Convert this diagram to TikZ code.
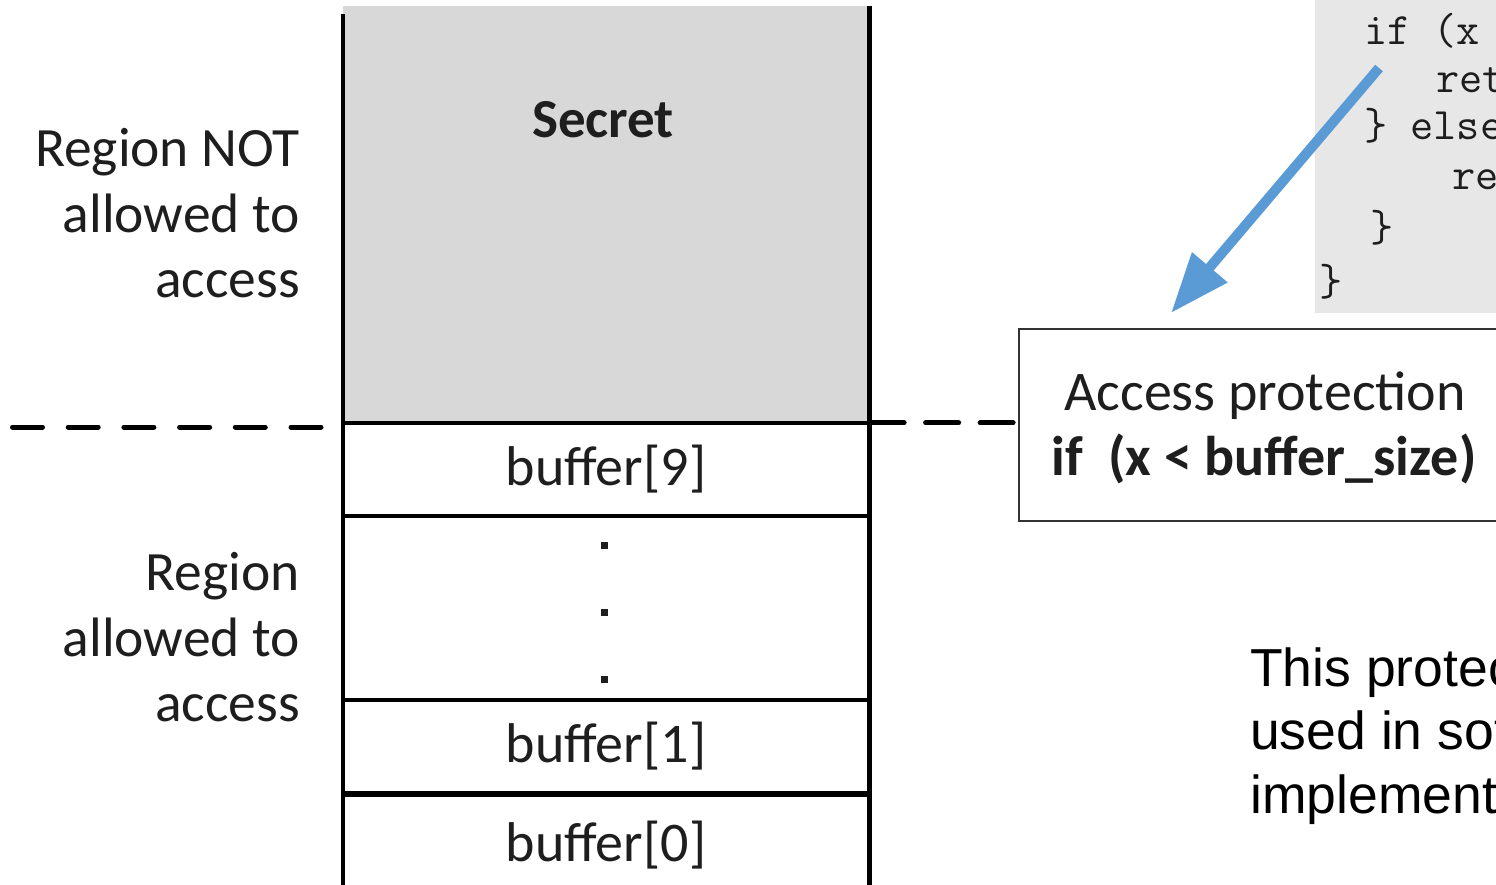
\documentclass[tikz,border=0pt]{standalone}
\usepackage{fontspec}
\setmainfont{Carlito}
\newfontfamily\arialfont{Liberation Sans}
\usetikzlibrary{arrows.meta}
\definecolor{secretgray}{RGB}{216,216,216}
\definecolor{codegray}{RGB}{231,231,231}
\definecolor{arrowblue}{RGB}{91,155,213}
\definecolor{txt}{RGB}{30,30,30}
\definecolor{boxline}{RGB}{50,50,50}
\begin{document}
\begin{tikzpicture}[x=1pt,y=-1pt,
  codebg/.style={rectangle, fill=codegray, draw=none, inner sep=0pt, minimum width=200pt, minimum height=313pt},
  codeline/.style={anchor=base west, inner sep=0pt, text=txt, font=\ttfamily\fontsize{45}{50}\selectfont},
  secretbox/.style={rectangle, fill=secretgray, draw=none, inner sep=0pt, minimum width=526pt, minimum height=417pt},
  secrettxt/.style={anchor=base, inner sep=0pt, text=txt, font=\bfseries\fontsize{55}{60}\selectfont},
  bufbox/.style={rectangle, draw=black, line width=4.2pt, fill=white, inner sep=0pt, minimum width=526pt, minimum height=93pt, text=txt, font=\fontsize{56}{60}\selectfont},
  wall/.style={draw=black, line width=4.2pt},
  vdot/.style={rectangle, fill=txt, inner sep=0pt, minimum size=7pt},
  dashline/.style={draw=black, line width=5pt, line cap=round},
  protbox/.style={rectangle, draw=boxline, line width=1.8pt, fill=white, inner sep=0pt, minimum width=492pt, minimum height=192pt},
  prottxt/.style={anchor=base, inner sep=0pt, text=txt, font=\fontsize{56}{65}\selectfont},
  side/.style={anchor=base east, inner sep=0pt, text=txt, font=\fontsize{55.5}{65}\selectfont},
  expl/.style={anchor=base west, inner sep=0pt, text=black, font=\arialfont\fontsize{53.5}{63}\selectfont},
  bluearrow/.style={draw=arrowblue, line width=10pt, -{Triangle[length=60pt, width=44pt]}}
]
\useasboundingbox (0,0) rectangle (1496,885);
\clip (0,0) rectangle (1496,885);

% code excerpt (top right)
\node[codebg, anchor=north west] (codebg) at (1315,0) {};
\node[codeline] (c1) at (1364,45) {if (x <};
\node[codeline] (c2) at (1436,93) {return};
\node[codeline] (c3) at (1364,140) {\} else \{};
\node[codeline] (c4) at (1452,190) {return};
\node[codeline] (c5) at (1370,241.5) {\}};
\node[codeline] (c6) at (1319,295) {\}};

% memory column
\node[secretbox, anchor=north west] (secret) at (343,6) {};
\node[secrettxt] (secretlbl) at (603,138) {Secret};

\node[bufbox] (b9) at (606,469.5) {buffer[9]};
\node[bufbox] (b1) at (606,746.5) {buffer[1]};
\node[bufbox, minimum height=100pt] (b0) at (606,845) {buffer[0]};

\draw[wall] ([yshift=-8pt]secret.north west) -- (secret.west |- b0.south);
\draw[wall] (secret.north east) -- (secret.east |- b0.south);

\node[vdot] (d1) at (604,545) {};
\node[vdot] (d2) at (604,612) {};
\node[vdot] (d3) at (604,679) {};

% protection box
\node[protbox] (prot) at (1265,425) {};
\node[prottxt] (p1) at (1265,410) {Access protection};
\node[prottxt, font=\bfseries\fontsize{56}{65}\selectfont] (p2) at (1264,475) {if\ \ (x < buffer\_size)};

% boundary dashed lines
\coordinate (dl) at (12.5,427);
\draw[dashline, dash pattern=on 30pt off 25.7pt] (dl) -- (dl -| b9.west);
\draw[dashline, dash pattern=on 33pt off 21.5pt] ([yshift=-2pt]b9.north east) -- ([yshift=-2pt]prot.west |- b9.north);

% blue arrow
\coordinate (as) at (1379,68);
\coordinate (at) at (1171,313);
\draw[bluearrow] (as) -- (at);

% side labels
\node[side] (r1a) at (300,167) {Region NOT};
\node[side] (r1b) at (300,233) {allowed to};
\node[side] (r1c) at (300,298) {access};
\node[side] (r2a) at (300,590) {Region};
\node[side] (r2b) at (300,656) {allowed to};
\node[side] (r2c) at (300,721) {access};

% explanation text
\node[expl] (e1) at (1250,686) {This protection};
\node[expl] (e2) at (1250,749) {used in software};
\node[expl] (e3) at (1250,813) {implementations};
\end{tikzpicture}
\end{document}
